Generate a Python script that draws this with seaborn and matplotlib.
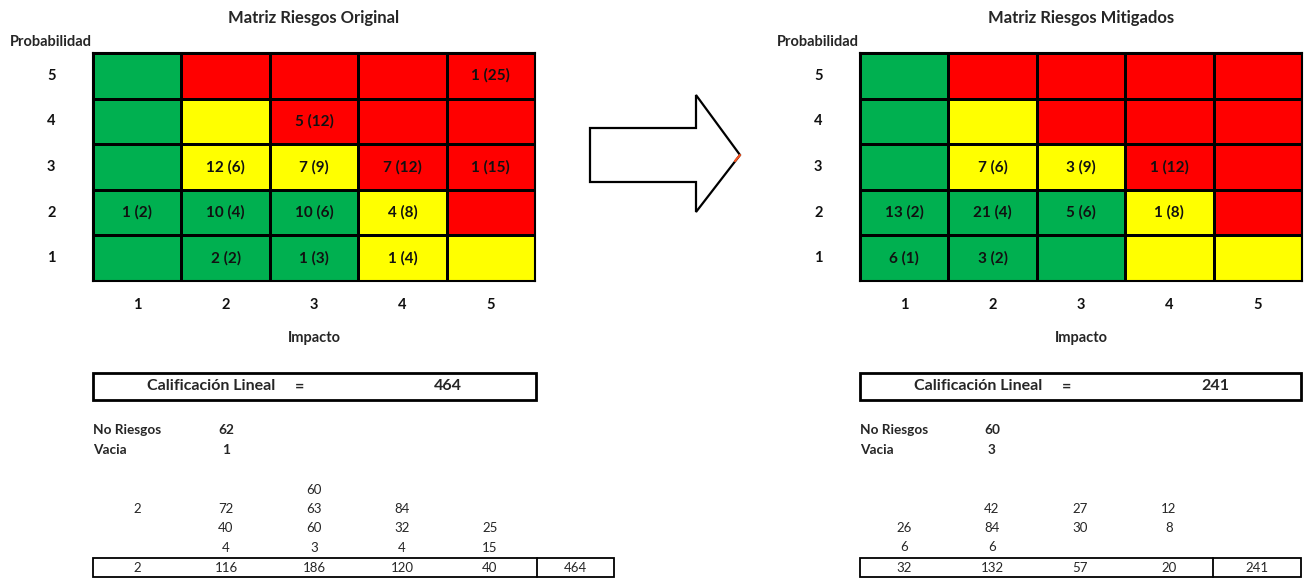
import matplotlib
matplotlib.use("Agg")
import matplotlib.pyplot as plt
from matplotlib.colors import ListedColormap
from matplotlib.patches import Polygon, Rectangle
import numpy as np
import pandas as pd
import seaborn as sns

# ---- data ----
impact = [1, 2, 3, 4, 5]
probability = [5, 4, 3, 2, 1]

# risk zone per cell (rows: probability 5..1, cols: impact 1..5); 0 low, 1 medium, 2 high
zones = [
    [0, 2, 2, 2, 2],
    [0, 1, 2, 2, 2],
    [0, 1, 1, 2, 2],
    [0, 0, 0, 1, 2],
    [0, 0, 0, 1, 1],
]

# number of risks per cell
counts_original = [
    [0, 0, 0, 0, 1],
    [0, 0, 5, 0, 0],
    [0, 12, 7, 7, 1],
    [1, 10, 10, 4, 0],
    [0, 2, 1, 1, 0],
]
counts_mitigated = [
    [0, 0, 0, 0, 0],
    [0, 0, 0, 0, 0],
    [0, 7, 3, 1, 0],
    [13, 21, 5, 1, 0],
    [6, 3, 0, 0, 0],
]

titles = ["Matriz Riesgos Original", "Matriz Riesgos Mitigados"]
no_riesgos = [62, 60]
vacia = [1, 3]
calificacion = [464, 241]

# weighted scores worksheet below each matrix
scores_original = [
    [None, None, 60, None, None],
    [2, 72, 63, 84, None],
    [None, 40, 60, 32, 25],
    [None, 4, 3, 4, 15],
]
totals_original = [2, 116, 186, 120, 40]
scores_mitigated = [
    [None, 42, 27, 12, None],
    [26, 84, 30, 8, None],
    [6, 6, None, None, None],
]
totals_mitigated = [32, 132, 57, 20]

# ---- style ----
sns.set_theme(style="white")
plt.rcParams["font.family"] = ["Lato", "DejaVu Sans"]

GREEN, YELLOW, RED = "#00B050", "#FFFF00", "#FF0000"
W, H = 1304, 578

fig = plt.figure(figsize=(W / 100, H / 100), dpi=100)
bg = fig.add_axes([0, 0, 1, 1])
bg.set_xlim(0, W)
bg.set_ylim(H, 0)
bg.axis("off")


def px_axes(x0, y0, x1, y1):
    return fig.add_axes([x0 / W, 1 - y1 / H, (x1 - x0) / W, (y1 - y0) / H])


def draw_matrix(x0, x1, counts, title):
    y0, y1 = 53, 281
    ax = px_axes(x0, y0, x1, y1)
    zone_df = pd.DataFrame(zones, index=probability, columns=impact)
    labels = np.array([
        [f"{c} ({p * i})" if c else "" for c, i in zip(row, impact)]
        for row, p in zip(counts, probability)
    ])
    sns.heatmap(zone_df, cmap=ListedColormap([GREEN, YELLOW, RED]),
                vmin=-0.5, vmax=2.5, cbar=False, annot=labels, fmt="",
                linewidths=1.0, linecolor="black",
                annot_kws=dict(weight="bold", size=11, color="#111111"),
                xticklabels=impact, yticklabels=probability, ax=ax)
    for s in ax.spines.values():
        s.set_visible(True)
        s.set_linewidth(1.5)
        s.set_color("black")
    ax.tick_params(axis="y", length=0, pad=27, labelsize=10.5, rotation=0)
    ax.tick_params(axis="x", length=0, pad=12, labelsize=10.5, rotation=0)
    for t in ax.get_xticklabels() + ax.get_yticklabels():
        t.set_fontweight("bold")
        t.set_color("#111111")
    ax.set_xlabel("")
    ax.set_ylabel("")
    cx = (x0 + x1) / 2
    bg.text(cx, 18, title, ha="center", va="center", fontsize=12, fontweight="bold")
    bg.text(x0 - 83, 42, "Probabilidad", ha="left", va="center", fontsize=10.5, fontweight="bold")
    bg.text(cx, 338, "Impacto", ha="center", va="center", fontsize=10.5, fontweight="bold")


def draw_summary(x0, x1, cols, idx, rows, first_row_y, totals, total_x, box_right, divider_x):
    # rating box
    bg.add_patch(Rectangle((x0, 373), x1 - x0, 27, fill=False, lw=2, ec="black"))
    bg.text(x0 + 118, 386.5, "Calificación Lineal", ha="center", va="center",
            fontsize=11.5, fontweight="bold")
    bg.text(x0 + 207, 386.5, "=", ha="center", va="center", fontsize=11.5, fontweight="bold")
    bg.text(x0 + 355, 386.5, f"{calificacion[idx]}", ha="center", va="center",
            fontsize=11.5, fontweight="bold")
    # counts
    bg.text(x0, 430, "No Riesgos", ha="left", va="center", fontsize=9.8, fontweight="bold")
    bg.text(x0, 450, "Vacia", ha="left", va="center", fontsize=9.8, fontweight="bold")
    bg.text(cols[1], 430, f"{no_riesgos[idx]}", ha="center", va="center", fontsize=9.8, fontweight="bold")
    bg.text(cols[1], 450, f"{vacia[idx]}", ha="center", va="center", fontsize=9.8, fontweight="bold")
    # worksheet rows
    step = 19.2
    for r, row in enumerate(rows):
        y = first_row_y + r * step
        for cx, v in zip(cols, row):
            if v is not None:
                bg.text(cx, y, f"{v}", ha="center", va="center", fontsize=9.5)
    # totals row
    bg.add_patch(Rectangle((x0, 558), box_right - x0, 19, fill=False, lw=1.3, ec="black"))
    bg.plot([divider_x, divider_x], [558, 577], color="black", lw=1.3)
    for cx, v in zip(cols, totals):
        bg.text(cx, 567.5, f"{v}", ha="center", va="center", fontsize=9.5)
    bg.text(total_x, 567.5, f"{sum(totals)}", ha="center", va="center", fontsize=9.5)


draw_matrix(93, 535, counts_original, titles[0])
draw_matrix(860, 1302, counts_mitigated, titles[1])

cols_left = [137, 226, 314, 402, 490]
cols_right = [904, 992, 1080, 1169, 1257]
draw_summary(93, 536, cols_left, 0, scores_original, 490, totals_original, 575, 614, 537)
draw_summary(860, 1301, cols_right, 1, scores_mitigated, 509, totals_mitigated, 1257, 1301, 1213)

# arrow between the two matrices
arrow = Polygon([(590, 128), (696, 128), (696, 95), (740, 155), (696, 212),
                 (696, 182), (590, 182)], closed=True, fc="white", ec="black", lw=1.6)
bg.add_patch(arrow)
bg.plot([735, 740], [161, 155], color="#F4511E", lw=1.6)

fig.savefig("out.png", dpi=100)
